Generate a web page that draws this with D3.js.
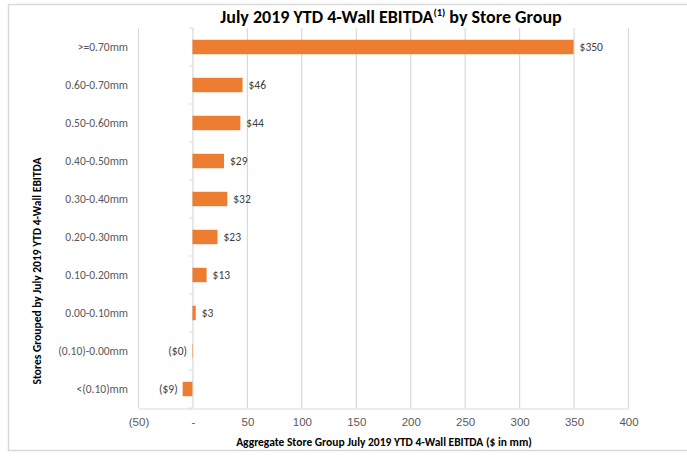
<!DOCTYPE html>
<html>
<head>
<meta charset="utf-8">
<script src="https://cdn.jsdelivr.net/npm/d3@7/dist/d3.min.js"></script>
<style>
  html, body { margin: 0; padding: 0; background: #fff; }
  svg { display: block; font-family: Calibri, Carlito, Lato, "Open Sans", sans-serif; }
</style>
</head>
<body>
<svg id="chart" width="687" height="456"></svg>
<script>
// Store groups (top to bottom) and aggregate EBITDA, $ in mm
const categories = [">=0.70mm", "0.60-0.70mm", "0.50-0.60mm", "0.40-0.50mm", "0.30-0.40mm",
                    "0.20-0.30mm", "0.10-0.20mm", "0.00-0.10mm", "(0.10)-0.00mm", "<(0.10)mm"];
const values = [350, 46, 44, 29, 32, 23, 13, 3, -0.4, -9];
const xTicks = [-50, 0, 50, 100, 150, 200, 250, 300, 350, 400];

const svg = d3.select("#chart");
const margin = { left: 138, right: 59, top: 28, bottom: 48 };
const W = 687, H = 456;

// chart frame
svg.append("rect").attr("x", 8.5).attr("y", 4.5).attr("width", 700).attr("height", 446)
  .attr("fill", "none").attr("stroke", "#d9d9d9").attr("stroke-width", 1.5);

const x = d3.scaleLinear().domain([-50, 400]).range([margin.left, W - margin.right]);
const y = d3.scaleBand().domain(categories).range([margin.top, H - margin.bottom]).paddingInner(0.62).paddingOuter(0.31);
const yTick = d3.scaleBand().domain(categories).range([margin.top, H - margin.bottom]);

const fmtAxis = v => v === 0 ? "-" : (v < 0 ? `(${Math.abs(v)})` : `${v}`);
const fmtVal = v => {
  const r = Math.round(Math.abs(v));
  return v < 0 ? `($${r})` : `$${r}`;
};

// vertical gridlines
svg.append("g").selectAll("line").data(xTicks.filter(d => d !== 0)).join("line")
  .attr("x1", d => x(d) + 0.5).attr("x2", d => x(d) + 0.5)
  .attr("y1", margin.top).attr("y2", H - margin.bottom)
  .attr("stroke", "#d9d9d9").attr("stroke-width", 1.2);

// horizontal axis
const xAxis = d3.axisBottom(x).tickValues(xTicks).tickFormat(fmtAxis).tickSize(0).tickPadding(9);
const gx = svg.append("g").attr("transform", `translate(0.5,${H - margin.bottom + 0.5})`).call(xAxis);
gx.select(".domain").attr("stroke", "#d9d9d9").attr("stroke-width", 1.2);
gx.selectAll("text").attr("fill", "#595959").attr("font-size", 11.5).attr("font-family", null);

// category axis at zero
const gy = svg.append("g").attr("transform", `translate(${x(0) + 0.5},0)`);
gy.append("line").attr("y1", margin.top).attr("y2", H - margin.bottom)
  .attr("stroke", "#d9d9d9").attr("stroke-width", 1.2);
gy.selectAll("line.tick").data(categories.slice(1).concat(["__end"])).join("line")
  .attr("class", "tick")
  .attr("x1", -4).attr("x2", 0)
  .attr("y1", (d, i) => margin.top + (i + 1) * yTick.bandwidth())
  .attr("y2", (d, i) => margin.top + (i + 1) * yTick.bandwidth())
  .attr("stroke", "#d9d9d9");
gy.append("line").attr("x1", -4).attr("x2", 0).attr("y1", margin.top).attr("y2", margin.top).attr("stroke", "#d9d9d9");

// category labels
svg.append("g").selectAll("text").data(categories).join("text")
  .attr("x", 128).attr("y", d => yTick(d) + yTick.bandwidth() / 2)
  .attr("dy", "0.35em").attr("text-anchor", "end")
  .attr("fill", "#595959").attr("font-size", 11.5)
  .text(d => d);

// bars
svg.append("g").selectAll("rect").data(values).join("rect")
  .attr("x", d => x(Math.min(0, d)))
  .attr("y", (d, i) => y(categories[i]))
  .attr("width", d => Math.abs(x(d) - x(0)))
  .attr("height", y.bandwidth())
  .attr("fill", "#ED7D31");

// value labels
svg.append("g").selectAll("text").data(values).join("text")
  .attr("x", d => d < 0 ? x(Math.min(0, d)) - 5 : x(d) + 6)
  .attr("y", (d, i) => y(categories[i]) + y.bandwidth() / 2)
  .attr("dy", "0.35em")
  .attr("text-anchor", d => d < 0 ? "end" : "start")
  .attr("fill", "#404040").attr("font-size", 11.5)
  .text(fmtVal);

// title
const title = svg.append("text").attr("x", 391).attr("y", 23).attr("text-anchor", "middle")
  .attr("font-size", 18).attr("font-weight", "bold").attr("fill", "#000");
title.append("tspan").text("July 2019 YTD 4-Wall EBITDA");
title.append("tspan").attr("font-size", 10.5).attr("dy", -7).text("(1)");
title.append("tspan").attr("dy", 7).text(" by Store Group");

// axis titles
svg.append("text").attr("x", 384).attr("y", 446).attr("text-anchor", "middle")
  .attr("font-size", 11.5).attr("font-weight", "bold").attr("fill", "#000")
  .text("Aggregate Store Group July 2019 YTD 4-Wall EBITDA ($ in mm)");
svg.append("text").attr("transform", "translate(41,271) rotate(-90)").attr("text-anchor", "middle")
  .attr("font-size", 11.5).attr("font-weight", "bold").attr("fill", "#000")
  .text("Stores Grouped by July 2019 YTD 4-Wall EBITDA");
</script>
</body>
</html>
